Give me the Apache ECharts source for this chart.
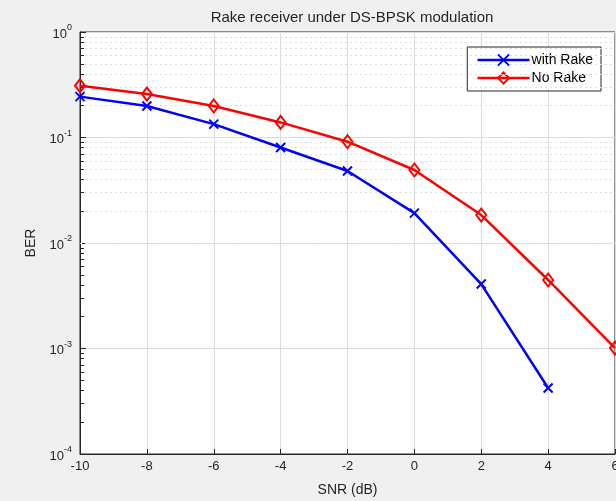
<!DOCTYPE html>
<html>
<head>
<meta charset="utf-8">
<script src="https://cdn.jsdelivr.net/npm/echarts@6/dist/echarts.min.js"></script>
<style>
html,body{margin:0;padding:0;background:#f0f0f0;}
#chart{width:616px;height:501px;}
</style>
</head>
<body>
<div id="chart"></div>
<script>
const snr = [-10, -8, -6, -4, -2, 0, 2, 4, 6];
const berRake = [0.244, 0.199, 0.134, 0.0804, 0.0481, 0.0192, 0.00408, 0.000422];
const berNoRake = [0.31, 0.258, 0.199, 0.139, 0.0912, 0.0492, 0.0184, 0.00446, 0.00101];
const seriesNames = ['with Rake', 'No Rake'];
const titleText = 'Rake receiver under DS-BPSK modulation';
const xLabel = 'SNR (dB)';
const yLabel = 'BER';
const decades = [-4, -3, -2, -1];
const minorMult = [2, 3, 4, 5, 6, 7, 8, 9];

const minorVals = [];
decades.forEach(d => minorMult.forEach(m => minorVals.push(m * Math.pow(10, d))));

const chart = echarts.init(document.getElementById('chart'));
const font = 'Liberation Sans, Arial, Helvetica, sans-serif';
const crossPath = 'path://M0,0L10,10M10,0L0,10';

chart.setOption({
  backgroundColor: '#f0f0f0',
  animation: false,
  title: {
    text: titleText,
    left: 347, textAlign: 'center', top: 5,
    textStyle: {fontFamily: font, fontSize: 15, fontWeight: 'normal', color: '#262626'}
  },
  legend: {
    data: seriesNames,
    orient: 'vertical',
    right: 15, top: 47,
    backgroundColor: '#fff',
    borderColor: '#262626', borderWidth: 1,
    padding: [6, 8, 6, 9],
    itemGap: 4,
    itemWidth: 52, itemHeight: 14,
    lineStyle: {width: 2.5},
    textStyle: {fontFamily: font, fontSize: 14, color: '#000', padding: [0, 0, 0, -3]}
  },
  grid: {
    left: 80, right: 1, top: 32, bottom: 47,
    outerBoundsMode: 'none',
    show: true, backgroundColor: '#fff', borderColor: '#262626', borderWidth: 1
  },
  xAxis: {
    type: 'value', min: -10, max: 6, interval: 2,
    name: xLabel, nameLocation: 'middle', nameGap: 29,
    nameTextStyle: {fontFamily: font, fontSize: 14, color: '#262626'},
    axisLine: {onZero: false, lineStyle: {color: '#262626', width: 1}},
    axisTick: {inside: true, length: 5, lineStyle: {color: '#262626'}},
    axisLabel: {fontFamily: font, fontSize: 13, color: '#262626', margin: 6},
    splitLine: {show: true, lineStyle: {color: '#dcdcdc', width: 1}}
  },
  yAxis: {
    type: 'log', logBase: 10, min: 1e-4, max: 1,
    name: yLabel, nameLocation: 'middle', nameGap: 42, nameRotate: 90,
    nameTextStyle: {fontFamily: font, fontSize: 14, color: '#262626'},
    axisLine: {show: true, onZero: false, lineStyle: {color: '#262626', width: 1}},
    axisTick: {inside: true, length: 6, lineStyle: {color: '#262626'}},
    axisLabel: {
      fontFamily: font, color: '#262626', margin: 8,
      formatter: v => '{b|10}{s|' + Math.round(Math.log10(v)) + '}',
      rich: {
        b: {fontFamily: font, fontSize: 13, color: '#262626', verticalAlign: 'bottom'},
        s: {fontFamily: font, fontSize: 9, color: '#262626', verticalAlign: 'top', padding: [0, 0, 8, 0]}
      }
    },
    splitLine: {show: true, lineStyle: {color: '#dcdcdc', width: 1}}
  },
  series: [
    {
      name: 'minor', type: 'line', data: [], silent: true, z: 1,
      markLine: {
        silent: true, symbol: 'none', animation: false,
        label: {show: false},
        lineStyle: {color: '#dedede', type: [2, 3], width: 1},
        data: minorVals.map(v => ({yAxis: v}))
      }
    },
    {
      name: 'minorTicks', type: 'line', data: [], silent: true, z: 3,
      markLine: {
        silent: true, symbol: 'none', animation: false,
        label: {show: false},
        lineStyle: {color: '#262626', type: 'solid', width: 1},
        data: minorVals.map(v => [{coord: [-10, v]}, {coord: [-9.88, v]}])
      }
    },
    {
      name: seriesNames[0], type: 'line', z: 5,
      data: berRake.map((v, i) => [snr[i], v]),
      symbol: crossPath, symbolSize: 9,
      lineStyle: {color: '#0000ff', width: 2.5},
      itemStyle: {color: '#0000ff', borderColor: '#0000ff', borderWidth: 2}
    },
    {
      name: seriesNames[1], type: 'line', z: 5,
      data: berNoRake.map((v, i) => [snr[i], v]),
      symbol: 'diamond', symbolSize: [10, 13],
      lineStyle: {color: '#ff0000', width: 2.5},
      itemStyle: {color: 'rgba(255,255,255,0)', borderColor: '#ff0000', borderWidth: 2}
    }
  ]
});
</script>
</body>
</html>
